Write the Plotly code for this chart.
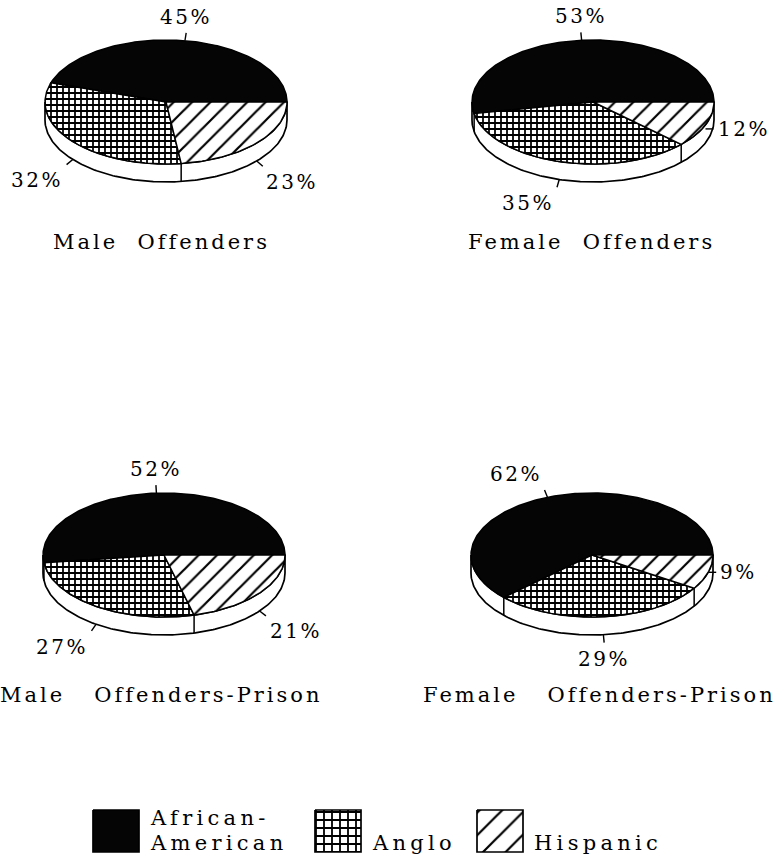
import numpy as np
import plotly.graph_objects as go

# ---- data -------------------------------------------------------------
groups = ["African-American", "Anglo", "Hispanic"]
legend_labels = ["African-\nAmerican", "Anglo", "Hispanic"]
titles = ["Male  Offenders", "Female  Offenders",
          "Male   Offenders-Prison", "Female   Offenders-Prison"]
male_offenders = [45, 32, 23]
female_offenders = [53, 35, 12]
male_prison = [52, 27, 21]
female_prison = [62, 29, 9]
panels = [male_offenders, female_offenders, male_prison, female_prison]

# ---- layout / style ---------------------------------------------------
W, H = 775, 859
CENTERS = [(166, 102), (593, 102), (164, 555), (592, 555)]
TITLE_X = [161, 591, 161, 599]
A, B, T = 121, 62, 18          # ellipse semi-axes and rim depth
FONT = "DejaVu Serif, serif"

fills = {
    "African-American": dict(fillcolor="#050505"),
    "Anglo": dict(fillcolor="white",
                  fillpattern=dict(shape="+", size=6, solidity=0.5, fgopacity=1,
                                   fgcolor="black", bgcolor="white")),
    "Hispanic": dict(fillcolor="white",
                     fillpattern=dict(shape="/", size=13, solidity=0.17, fgopacity=1,
                                      fgcolor="black", bgcolor="white")),
}
legend_fills = {
    "African-American": dict(fillcolor="#050505"),
    "Anglo": dict(fillcolor="white",
                  fillpattern=dict(shape="+", size=8, solidity=0.4, fgopacity=1,
                                   fgcolor="black", bgcolor="white")),
    "Hispanic": dict(fillcolor="white",
                     fillpattern=dict(shape="/", size=16, solidity=0.14, fgopacity=1,
                                      fgcolor="black", bgcolor="white")),
}


def spaced(text, px, size):
    text = text.replace(" ", "\u00a0")
    return dict(text=f'<span style="letter-spacing:{px}px">{text}</span>',
                font=dict(family=FONT, size=size, color="black"))


def arc(cx, cy, a0, a1, dy=0.0):
    n = max(int(abs(a1 - a0)), 2) + 1
    th = np.radians(np.linspace(a0, a1, n))
    return cx + A * np.cos(th), cy - B * np.sin(th) + dy


fig = go.Figure()
annotations = []

for (cx, cy), values, title, tx in zip(CENTERS, panels, titles, TITLE_X):
    total = float(sum(values))
    bounds = np.concatenate([[0.0], np.cumsum(values) / total * 360.0])

    # rim (front half of the cylinder side)
    xt, yt = arc(cx, cy, 180, 360)
    xb, yb = arc(cx, cy, 360, 180, dy=T)
    fig.add_trace(go.Scatter(
        x=np.concatenate([xt, xb, xt[:1]]), y=np.concatenate([yt, yb, yt[:1]]),
        mode="lines", fill="toself", fillcolor="white",
        line=dict(color="black", width=1.7), hoverinfo="skip"))

    # vertical seams on the rim where slices meet
    for ang in bounds[1:-1]:
        if 180 < ang < 360:
            x0 = cx + A * np.cos(np.radians(ang))
            y0 = cy - B * np.sin(np.radians(ang))
            fig.add_trace(go.Scatter(x=[x0, x0], y=[y0, y0 + T], mode="lines",
                                     line=dict(color="black", width=1.5),
                                     hoverinfo="skip"))

    # top-face slices
    for g, v, a0, a1 in zip(groups, values, bounds[:-1], bounds[1:]):
        xs, ys = arc(cx, cy, a0, a1)
        fig.add_trace(go.Scatter(
            x=np.concatenate([[cx], xs, [cx]]), y=np.concatenate([[cy], ys, [cy]]),
            mode="lines", fill="toself", line=dict(color="black", width=1.5),
            name=g, hoverinfo="skip", **fills[g]))

        # leader tick and percentage label
        mid = np.radians((a0 + a1) / 2)
        c, s = np.cos(mid), np.sin(mid)
        px, py = cx + A * c, cy - B * s
        if s < 0:
            py += T * np.clip((-s - 0.3) / 0.3, 0, 1)
        if abs(s) < 0.45:
            dx, dy = np.sign(c), 0.0
        else:
            dx, dy = c, -s
        qx, qy = px + 8 * dx, py + 8 * dy
        fig.add_trace(go.Scatter(x=[px, qx], y=[py, qy], mode="lines",
                                 line=dict(color="black", width=1.4),
                                 hoverinfo="skip"))
        xa = "left" if c > 0.25 else ("right" if c < -0.25 else "center")
        ya = "bottom" if s > 0.45 else ("top" if s < -0.45 else "middle")
        annotations.append(dict(
            x=qx + 2 * dx, y=qy + 2 * dy, xref="x", yref="y", showarrow=False,
            xanchor=xa, yanchor=ya, **spaced(f"{v}%", 2.5, 20)))

    annotations.append(dict(x=tx, y=cy + 140, xref="x", yref="y",
                            showarrow=False, xanchor="center", yanchor="middle",
                            **spaced(title, 3, 21)))

# ---- legend -----------------------------------------------------------
SW_LEFT = [93, 315, 477]
SW_SIZE, SW_TOP, SW_BOTTOM = 46, 810, 852
for g, lab, x0 in zip(groups, legend_labels, SW_LEFT):
    x1 = x0 + SW_SIZE
    fig.add_trace(go.Scatter(
        x=[x0, x1, x1, x0, x0], y=[SW_TOP, SW_TOP, SW_BOTTOM, SW_BOTTOM, SW_TOP],
        mode="lines", fill="toself",
        line=dict(color="black", width=1.7), hoverinfo="skip", **legend_fills[g]))
    lines = lab.split("\n")
    for k, line in enumerate(reversed(lines)):
        annotations.append(dict(x=x1 + 9, y=843 - 25 * k, xref="x", yref="y",
                                showarrow=False, xanchor="left", yanchor="middle",
                                **spaced(line, 4.3, 21)))

fig.update_layout(
    width=W, height=H, margin=dict(l=0, r=0, t=0, b=0),
    paper_bgcolor="white", plot_bgcolor="white", showlegend=False,
    xaxis=dict(range=[0, W], visible=False, fixedrange=True),
    yaxis=dict(range=[H, 0], visible=False, fixedrange=True),
    annotations=annotations,
)
fig.write_html("out.html")
